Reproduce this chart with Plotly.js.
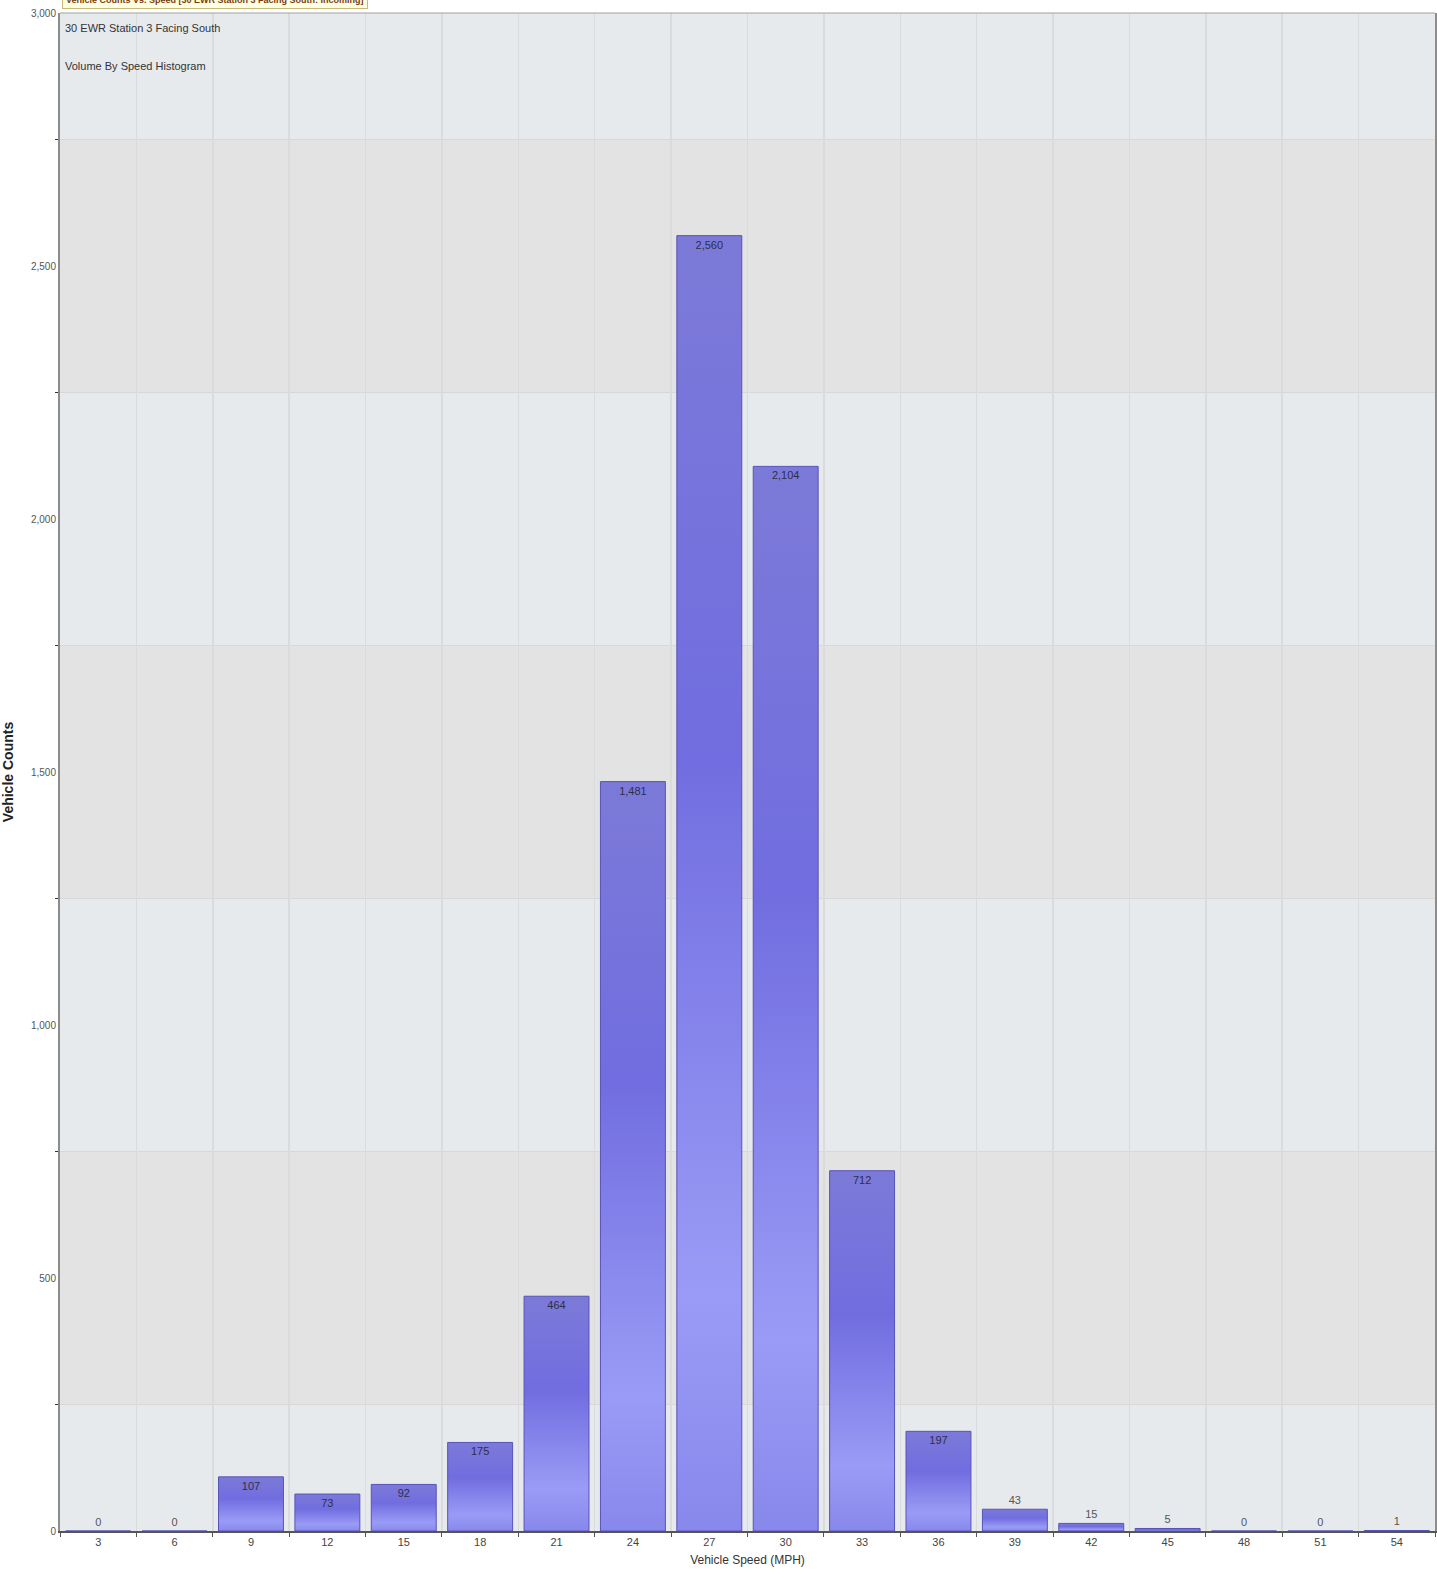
<!DOCTYPE html>
<html>
<head>
<meta charset="utf-8">
<script src="https://cdn.plot.ly/plotly-3.0.1.min.js"></script>
<style>
  html, body { margin: 0; padding: 0; background: #ffffff; }
  #chart { width: 1437px; height: 1583px; }
</style>
</head>
<body>
<div id="chart"></div>
<script>
// ---- data ----
const speeds = ["3", "6", "9", "12", "15", "18", "21", "24", "27", "30", "33", "36", "39", "42", "45", "48", "51", "54"];
const counts = [0, 0, 107, 73, 92, 175, 464, 1481, 2560, 2104, 712, 197, 43, 15, 5, 0, 0, 1];
const yTickVals = [0, 500, 1000, 1500, 2000, 2500, 3000];
const bandStarts = [250, 1250, 2250];   // darker alternating bands (each 500 wide)

const chartTitle = "Vehicle Counts Vs. Speed [30 EWR Station 3 Facing South: Incoming]";
const subtitle1 = "30 EWR Station 3 Facing South";
const subtitle2 = "Volume By Speed Histogram";
const xTitle = "Vehicle Speed (MPH)";
const yTitle = "Vehicle Counts";

const FONT = "'Liberation Sans Narrow', 'Arial Narrow', 'Liberation Sans', Arial, sans-serif";

const textPos = counts.map(v => v < 60 ? "outside" : "inside");

const trace = {
  type: "bar",
  x: speeds,
  y: counts,
  text: counts.map(v => v.toLocaleString("en-US")),
  textposition: textPos,
  insidetextanchor: "end",
  constraintext: "none",
  cliponaxis: false,
  textfont: { family: FONT, size: 11, color: "#3a3a4a" },
  insidetextfont: { family: FONT, size: 11, color: "#2e2e4a" },
  outsidetextfont: { family: FONT, size: 11, color: "#555555" },
  marker: { color: "#7e7ce4", line: { color: "#5654b8", width: 1 } },
  hoverinfo: "x+y"
};

const shapes = bandStarts.map(s => ({
  type: "rect", xref: "paper", yref: "y", x0: 0, x1: 1, y0: s, y1: s + 500,
  fillcolor: "#e3e3e3", line: { width: 0 }, layer: "below"
}));
shapes.push({
  type: "line", xref: "paper", yref: "paper", x0: 0, x1: 1, y0: 1, y1: 1,
  line: { color: "#a0a0a0", width: 1 }
});

const layout = {
  width: 1437, height: 1583,
  margin: { l: 60, r: 2, t: 13, b: 52 },
  paper_bgcolor: "#ffffff",
  plot_bgcolor: "#e7eaed",
  bargap: 0.15,
  showlegend: false,
  font: { family: FONT, size: 11, color: "#444444" },
  xaxis: {
    type: "category",
    tickson: "boundaries",
    ticks: "outside", ticklen: 4, tickcolor: "#555555", tickwidth: 1,
    showgrid: true, gridcolor: "#d9dbdd", gridwidth: 1.5,
    showline: true, linecolor: "#555555", linewidth: 2,
    tickfont: { family: FONT, size: 11, color: "#444444" },
    title: { text: xTitle, font: { family: FONT, size: 12, color: "#333333" }, standoff: 8 },
    fixedrange: true
  },
  yaxis: {
    range: [0, 3000],
    tickvals: yTickVals,
    tickformat: ",",
    ticks: "",
    showgrid: false,
    zeroline: false,
    showline: true, linecolor: "#8c8c8c", linewidth: 2, mirror: true,
    tickfont: { family: FONT, size: 10, color: "#555555" },
    minor: { tick0: 250, dtick: 500, ticks: "outside", ticklen: 3, tickcolor: "#333333",
             showgrid: true, gridcolor: "#d8d8d8", gridwidth: 1.5 },
    title: { text: yTitle, font: { family: "'Liberation Sans', Arial, sans-serif", size: 14, color: "#222222", weight: "bold" }, standoff: 14 },
    fixedrange: true
  },
  shapes: shapes,
  annotations: [
    {
      text: "<b>" + chartTitle + "</b>", xref: "paper", yref: "paper",
      x: 0, y: 1, xanchor: "left", yanchor: "bottom", xshift: 2, yshift: 4,
      showarrow: false, align: "left",
      font: { family: FONT, size: 9, color: "#7a3b12" },
      bgcolor: "#ffffe1", bordercolor: "#c9b97a", borderwidth: 1, borderpad: 3
    },
    {
      text: subtitle1, xref: "paper", yref: "paper", x: 0, y: 1,
      xanchor: "left", yanchor: "middle", xshift: 3, yshift: -15,
      showarrow: false, font: { family: FONT, size: 11, color: "#333333" }
    },
    {
      text: subtitle2, xref: "paper", yref: "paper", x: 0, y: 1,
      xanchor: "left", yanchor: "middle", xshift: 3, yshift: -53,
      showarrow: false, font: { family: FONT, size: 11, color: "#333333" }
    }
  ]
};

Plotly.newPlot("chart", [trace], layout, { displayModeBar: false, staticPlot: true }).then(gd => {
  // apply a vertical gradient to the bars to mimic the original's shading
  const svg = gd.querySelector(".main-svg");
  const NS = "http://www.w3.org/2000/svg";
  let defs = svg.querySelector("defs");
  if (!defs) { defs = document.createElementNS(NS, "defs"); svg.insertBefore(defs, svg.firstChild); }
  const grad = document.createElementNS(NS, "linearGradient");
  grad.setAttribute("id", "barGrad");
  grad.setAttribute("x1", "0"); grad.setAttribute("y1", "0");
  grad.setAttribute("x2", "0"); grad.setAttribute("y2", "1");
  [["0", "#7c7ad8"], ["0.4", "#716de0"], ["0.82", "#9a9bf6"], ["1", "#8888ec"]].forEach(([o, c]) => {
    const st = document.createElementNS(NS, "stop");
    st.setAttribute("offset", o); st.setAttribute("stop-color", c);
    grad.appendChild(st);
  });
  defs.appendChild(grad);
  gd.querySelectorAll(".trace.bars .point path").forEach(p => { p.style.fill = "url(#barGrad)"; });
});
</script>
</body>
</html>
